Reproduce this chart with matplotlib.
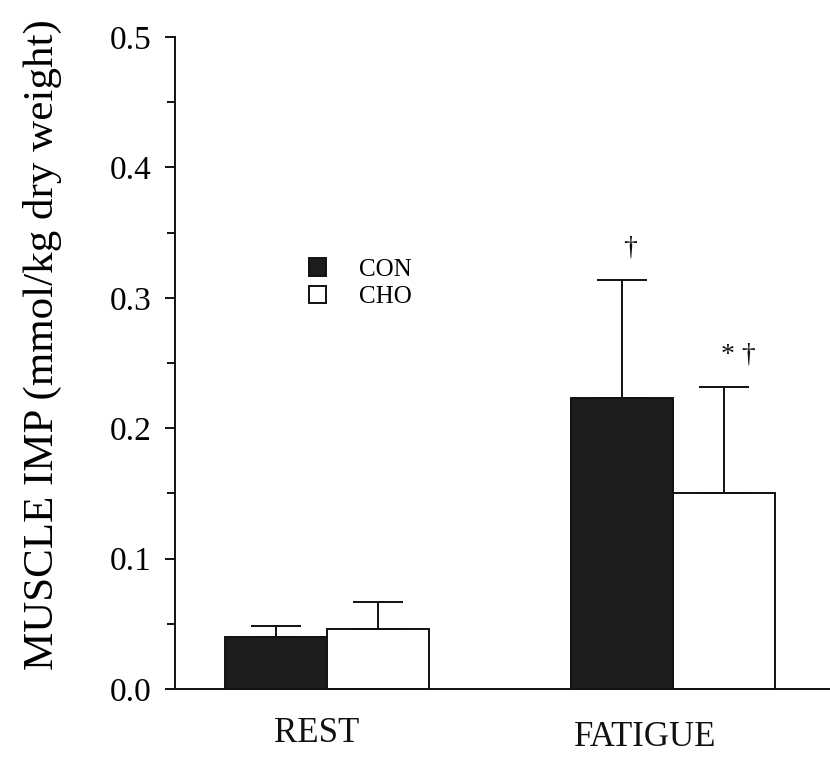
import matplotlib
matplotlib.use("Agg")
import matplotlib.pyplot as plt
import numpy as np

# Muscle IMP at rest and at fatigue, control vs carbohydrate trial
conditions = ["REST", "FATIGUE"]
con_mean = [0.040, 0.223]
con_sem = [0.008, 0.091]
cho_mean = [0.046, 0.150]
cho_sem = [0.021, 0.082]
con_marks = ["", "\u2020"]
cho_marks = ["", "* \u2020"]

plt.rcParams["font.family"] = ["Liberation Serif", "DejaVu Serif"]

fig = plt.figure(figsize=(8.30, 7.59), dpi=100)
ax = fig.add_axes([0.211, 0.0922, 0.789, 0.8590])

x = np.arange(len(conditions))
w = 0.295

ax.bar(x - w / 2, con_mean, w, color="#1c1c1c", edgecolor="#111111",
       linewidth=1.4, label="CON", zorder=2)
ax.bar(x + w / 2, cho_mean, w, color="white", edgecolor="#111111",
       linewidth=1.4, label="CHO", zorder=2)

for xs, m, e in ((x - w / 2, con_mean, con_sem), (x + w / 2, cho_mean, cho_sem)):
    ax.errorbar(xs, m, yerr=[np.zeros(len(m)), e], fmt="none",
                ecolor="#111111", elinewidth=1.4, capsize=18, capthick=1.4,
                zorder=3)

for xs, m, e, marks, dx in ((x - w / 2, con_mean, con_sem, con_marks, 6),
                            (x + w / 2, cho_mean, cho_sem, cho_marks, 10)):
    for xi, mi, ei, s in zip(xs, m, e, marks):
        if s:
            ax.annotate(s, (xi, mi + ei), xytext=(dx, 14),
                        textcoords="offset points", ha="center", va="bottom",
                        fontsize=20, color="#111111")

ax.set_xlim(-0.44, 1.454)
ax.set_ylim(0, 0.5)

# category labels, written as text so each can sit where it belongs
label_pos = [(-0.032, -0.068), (-0.081, -0.075)]
for xi, name, (dxc, yf) in zip(x, conditions, label_pos):
    ax.text(xi + dxc, yf, name, transform=ax.get_xaxis_transform(),
            ha="center", va="center", fontsize=25, color="#111111")
ax.set_xticks([])

ax.set_yticks(np.arange(0, 0.51, 0.1))
ax.set_yticklabels([f"{v:.1f}" for v in np.arange(0, 0.51, 0.1)], fontsize=24)
ax.set_yticks(np.arange(0.05, 0.5, 0.1), minor=True)
ax.tick_params(axis="y", which="major", length=7, width=1.3, direction="out", pad=10)
ax.tick_params(axis="y", which="minor", length=6, width=1.3, direction="out")

for side in ("top", "right"):
    ax.spines[side].set_visible(False)
for side in ("left", "bottom"):
    ax.spines[side].set_linewidth(1.4)
    ax.spines[side].set_color("#111111")

ax.set_ylabel("MUSCLE IMP (mmol/kg dry weight)", fontsize=31)
ax.yaxis.set_label_coords(-0.172, 0.528)

leg = ax.legend(loc="upper left", bbox_to_anchor=(0.17, 0.695), frameon=False,
                fontsize=18, handlelength=0.7, handleheight=0.7,
                handletextpad=1.3, labelspacing=0.2)

fig.savefig("out.png", dpi=100)
